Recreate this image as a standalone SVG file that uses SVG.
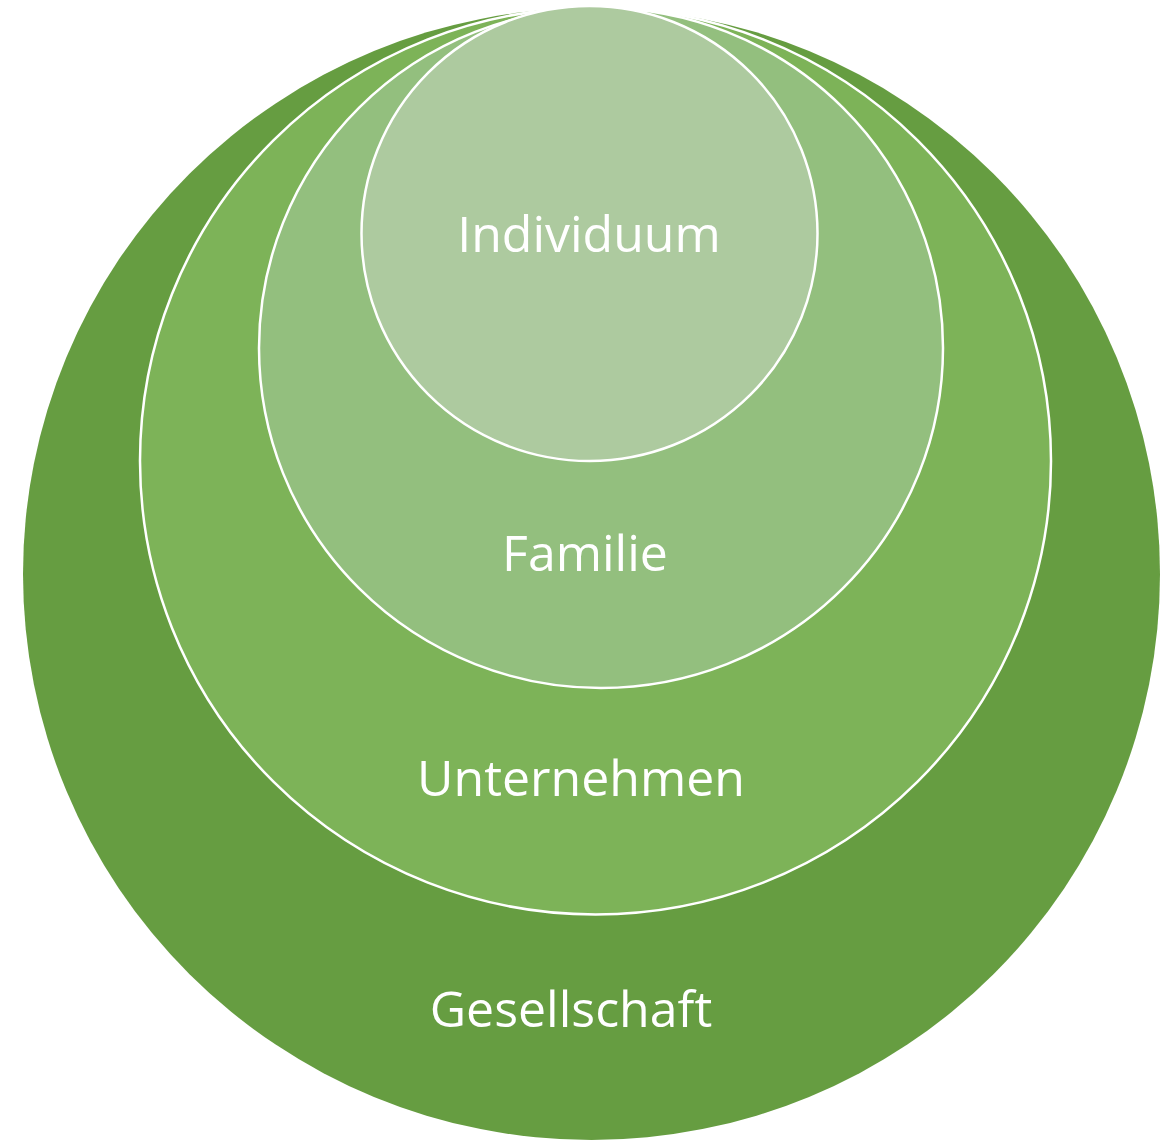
<svg xmlns="http://www.w3.org/2000/svg" width="1174" height="1141" viewBox="0 0 1174 1141">
<style>
.c{stroke:#fff;stroke-width:2.5}
.t{font-family:"Open Sans","Noto Sans","DejaVu Sans",sans-serif;font-size:50px;fill:#fff;text-anchor:middle}
</style>
<rect width="1174" height="1141" fill="#fff"/>
<g id="gesellschaft">
<ellipse cx="591.5" cy="574" rx="568.5" ry="566" fill="#669D41"/>
<text class="t" x="571" y="1027">Gesellschaft</text>
</g>
<g id="unternehmen">
<ellipse class="c" cx="595.5" cy="461" rx="455.5" ry="453.5" fill="#7DB358"/>
<text class="t" x="581" y="796">Unternehmen</text>
</g>
<g id="familie">
<ellipse class="c" cx="601" cy="348" rx="342" ry="340" fill="#93BF7E"/>
<text class="t" x="585" y="571">Familie</text>
</g>
<g id="individuum">
<ellipse class="c" cx="589.5" cy="233.5" rx="228" ry="227.5" fill="#ADCA9F"/>
<text class="t" x="589" y="252">Individuum</text>
</g>
<g id="connectors"/>
</svg>
